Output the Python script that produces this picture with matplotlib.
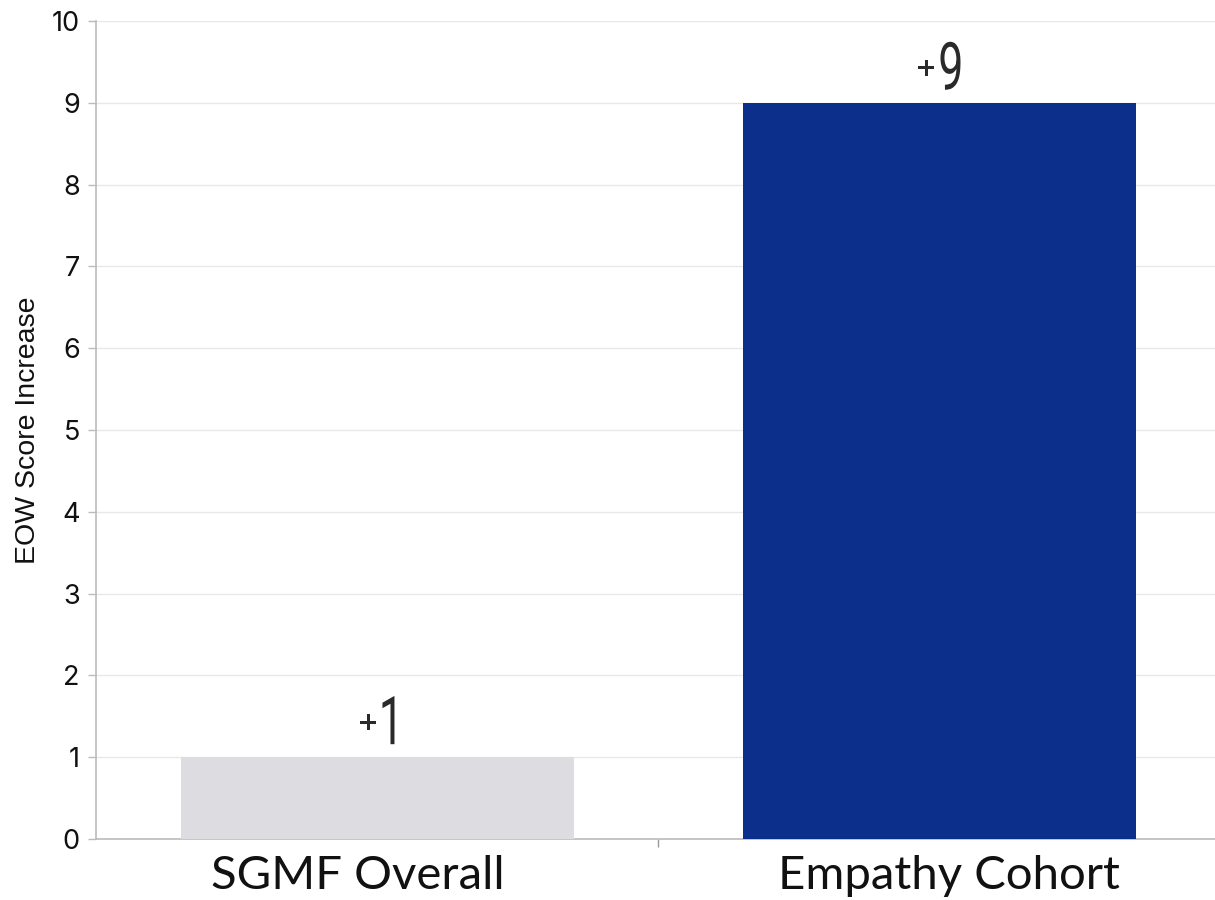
import matplotlib
matplotlib.use("Agg")
import matplotlib.pyplot as plt
from matplotlib.ticker import FixedLocator
from matplotlib.textpath import TextPath
from matplotlib.font_manager import FontProperties
from matplotlib.patches import PathPatch
from matplotlib.transforms import Affine2D, ScaledTranslation

categories = ["SGMF Overall", "Empathy Cohort"]
values = [1, 9]
bar_colors = ["#dcdce1", "#0b2f8a"]
y_ticks = list(range(0, 11))

DPI = 100
fig = plt.figure(figsize=(12.15, 9.0), dpi=DPI)
ax = fig.add_axes([0.0794, 0.0678, 0.9251, 0.9089])

x = list(range(len(categories)))
ax.bar(x, values, width=0.70, color=bar_colors, zorder=3)


def glyph_patch(text, prop, height_px, width_px, dx, dy, anchor, color):
    """Text outline squeezed into a box of width_px x height_px (pixels),
    lower-left corner at (dx, dy) pixels from the data anchor."""
    tp = TextPath((0, 0), text, size=100, prop=prop)
    ext = tp.get_extents()
    local = (Affine2D()
             .translate(-ext.x0, -ext.y0)
             .scale(width_px / ext.width, height_px / ext.height)
             .translate(dx, dy))
    trans = local + ScaledTranslation(anchor[0], anchor[1], ax.transData)
    return PathPatch(tp, transform=trans, facecolor=color, edgecolor="none",
                     zorder=5, clip_on=False)


digit_prop = FontProperties(family="Roboto", weight="normal")
plus_prop = FontProperties(family="DejaVu Sans", weight="bold")
ink = "#2a2a2a"
for xi, v in zip(x, values):
    digits = f"{v}"
    digit_h = 48
    digit_w = 20 if digits != "1" else 12
    plus_w, plus_h, gap = 16, 16, 6
    total = plus_w + gap + digit_w
    left = -total / 2
    base = 13
    ax.add_patch(glyph_patch("+", plus_prop, plus_h, plus_w, left,
                             base + digit_h / 2 - plus_h / 2 - 2,
                             (xi, v), ink))
    ax.add_patch(glyph_patch(digits, digit_prop, digit_h, digit_w,
                             left + plus_w + gap, base, (xi, v), ink))

ax.set_xlim(-0.5, 1.5)
ax.set_ylim(0, 10)
ax.set_yticks(y_ticks)
ax.set_yticklabels([str(t) for t in y_ticks], fontsize=19.5, family="Inter",
                   color="#111111")

# category names sit under the bars, nudged sideways a little
ax.set_xticks(x)
ax.set_xticklabels([])
label_shift = [-20, 9]
for xi, cat, s in zip(x, categories, label_shift):
    ax.annotate(cat, (xi, 0), xycoords=("data", "axes fraction"),
                xytext=(s, -16), textcoords="offset pixels",
                ha="center", va="top", fontsize=34, family="Lato",
                color="#111111", annotation_clip=False)

ax.xaxis.set_minor_locator(FixedLocator([0.5]))
ax.tick_params(axis="x", which="major", length=0)
ax.tick_params(axis="x", which="minor", length=6, color="#999999", width=1)
ax.tick_params(axis="y", length=6, color="#bbbbbb", width=1, pad=6)

ax.yaxis.grid(True, color="#e8e8e8", linewidth=1, zorder=0)
ax.set_axisbelow(True)

for side in ["top", "right"]:
    ax.spines[side].set_visible(False)
ax.spines["left"].set_color("#bbbbbb")
ax.spines["bottom"].set_color("#bbbbbb")
ax.spines["left"].set_linewidth(1.2)
ax.spines["bottom"].set_linewidth(1.2)

ax.set_ylabel("EOW Score Increase", fontsize=20.5, family="Liberation Sans",
              color="#111111", labelpad=8)

fig.savefig("out.png", dpi=DPI, facecolor="white")
